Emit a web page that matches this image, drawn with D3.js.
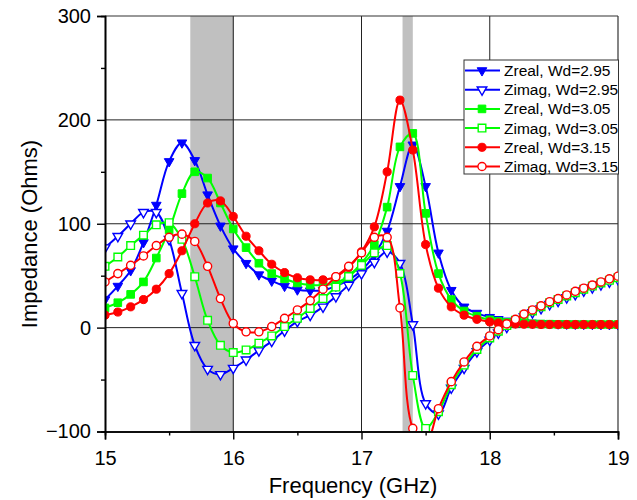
<!DOCTYPE html>
<html><head><meta charset="utf-8">
<script src="https://cdn.jsdelivr.net/npm/d3@7"></script>
<style>body{margin:0;background:#fff}svg{display:block;font-family:"Liberation Sans",Arial,sans-serif}</style>
</head><body><svg id="c" width="637" height="500"></svg>
<script>
const freq = [15.0,15.1,15.2,15.3,15.4,15.5,15.6,15.7,15.8,15.9,16.0,16.1,16.2,16.3,16.4,16.5,16.6,16.7,16.8,16.9,17.0,17.1,17.2,17.3,17.4,17.5,17.6,17.7,17.8,17.9,18.0,
  18.067,18.133,18.2,18.267,18.333,18.4,18.467,18.533,18.6,18.667,18.733,18.8,18.867,18.933,19.0];
const zreal295 = [27,40,55,82,118,160,178,161,128,98,76,62,51,45,40,36.5,35.5,36,40,46,55,70,93,136,176,136,72,36,20,14,10,
  8,6.5,5.5,5,4.5,4.2,4,3.8,3.6,3.5,3.4,3.3,3.2,3.1,3.0];
const zimag295 = [77,88,100,111,111,85,33,-17,-40,-45,-39,-31,-22,-13,-3,6,12,20,30,41,52,63,73,62,3,-73,-83,-58,-39,-23,-12,
  -5,0.5,5.5,10.5,14.5,18.5,22.5,25.5,29,32,35.5,38.5,41.5,44,46.5];
const zreal305 = [19,24,32,44,67,94,129,150,144,120,95,77,62,52,47,43,41,41,43,50,62,80,116,174,187,110,52,27,16,11,7.5,
  6,5,4.5,4,3.7,3.5,3.3,3.2,3.1,3,3,3,3,3,3];
const zimag305 = [59,68,79,89,99,101,85,49,7,-17,-24,-21.5,-15,-8,1,9,18.5,28,39,49,60,72,79,52,-46,-97,-81,-55,-36,-21,-10,
  -3.5,2,7,12,16,20,24,27,30.5,33.5,37,40,43,45.5,48];
const zreal315 = [12,15,20,27,37,52,74,100,120,122,107,88,74,61,53,48,46,46,49,58,73,97,150,219,171,80,38,20,12,8,5.5,
  4.5,4,3.5,3.3,3.2,3,3,3,3,3,3,3,3,3,3];
const zimag315 = [44,52,60,69,79,87,90,83,59,28,4,-4,-4,1,9,17,26,37,49,59,72,87,87,19,-97,-112,-78,-52,-33,-18,-8,
  -2,3.5,8,13,17,21,25,28,31.5,35,38,41,44,47,49.5];
const seriesNames = ["Zreal, Wd=2.95","Zimag, Wd=2.95","Zreal, Wd=3.05","Zimag, Wd=3.05","Zreal, Wd=3.15","Zimag, Wd=3.15"];
const bands = [[15.665,16.005],[17.32,17.40]];
const xTicks = [15,16,17,18,19];
const xMinor = [15.5,16.5,17.5,18.5];
const yTicks = [-100,0,100,200,300];
const yMinor = [-50,50,150,250];
const xGrid = [16,17,18];
const yGrid = [0,100,200];

const svg = d3.select("#c");
const L=105,R=618,T=16,B=431.5;
const x = d3.scaleLinear().domain([15,19]).range([L,R]);
const y = d3.scaleLinear().domain([-100,300]).range([B,T]);

const series = [
  {name:seriesNames[0], vals:zreal295, color:"#0000ff", shape:"tri", filled:true},
  {name:seriesNames[1], vals:zimag295, color:"#0000ff", shape:"tri", filled:false},
  {name:seriesNames[2], vals:zreal305, color:"#00ff00", shape:"sq", filled:true},
  {name:seriesNames[3], vals:zimag305, color:"#00ff00", shape:"sq", filled:false},
  {name:seriesNames[4], vals:zreal315, color:"#ff0000", shape:"circ", filled:true},
  {name:seriesNames[5], vals:zimag315, color:"#ff0000", shape:"circ", filled:false}
];

svg.append("defs").append("clipPath").attr("id","clip")
  .append("rect").attr("x",L).attr("y",T).attr("width",R-L).attr("height",B-T);

// bands
svg.append("g").selectAll("rect").data(bands).join("rect")
  .attr("x",d=>x(d[0])).attr("width",d=>x(d[1])-x(d[0]))
  .attr("y",T).attr("height",B-T).attr("fill","#c0c0c0");

// grid
const g = svg.append("g").attr("stroke","#222").attr("stroke-width",1);
g.selectAll("line.h").data(yGrid).join("line").attr("class","h")
  .attr("x1",L).attr("x2",R).attr("y1",d=>y(d)).attr("y2",d=>y(d));
g.selectAll("line.v").data(xGrid).join("line").attr("class","v")
  .attr("y1",T).attr("y2",B).attr("x1",d=>x(d)).attr("x2",d=>x(d));

// frame top/right
svg.append("line").attr("x1",L).attr("x2",R).attr("y1",T).attr("y2",T).attr("stroke","#333").attr("stroke-width",1.2);
svg.append("line").attr("x1",R).attr("x2",R).attr("y1",T).attr("y2",B).attr("stroke","#333").attr("stroke-width",1.2);

function symPath(shape, filledSize){
  if(shape==="tri") return d3.symbol(d3.symbolTriangle, 40)();
  if(shape==="sq") return d3.symbol(d3.symbolSquare, 58)();
  return d3.symbol(d3.symbolCircle, 52)();
}

const plot = svg.append("g").attr("clip-path","url(#clip)");
const line = d3.line().x((d,i)=>x(freq[i])).y(d=>y(d)).curve(d3.curveCatmullRom.alpha(0.5));
series.forEach(s=>{
  const gs = plot.append("g");
  gs.append("path").attr("d",line(s.vals)).attr("fill","none").attr("stroke",s.color).attr("stroke-width",2);
  gs.selectAll("path.m").data(s.vals).join("path").attr("class","m")
    .attr("d",symPath(s.shape))
    .attr("transform",(d,i)=>`translate(${x(freq[i])},${y(d)})${s.shape==="tri"?" rotate(180)":""}`)
    .attr("fill",s.filled?s.color:"#fff").attr("stroke",s.color).attr("stroke-width",s.filled?1:1.4);
});

// axes
const fontTick = "20px";
const ax = svg.append("g").attr("transform",`translate(0,${B})`)
  .call(d3.axisBottom(x).tickValues(xTicks).tickSize(8).tickPadding(6).tickFormat(d3.format("d")));
const axm = svg.append("g").attr("transform",`translate(0,${B})`)
  .call(d3.axisBottom(x).tickValues(xMinor).tickSize(4).tickFormat(""));
const ay = svg.append("g").attr("transform",`translate(${L},0)`)
  .call(d3.axisLeft(y).tickValues(yTicks).tickSize(8).tickPadding(6).tickFormat(d3.format("d")));
const aym = svg.append("g").attr("transform",`translate(${L},0)`)
  .call(d3.axisLeft(y).tickValues(yMinor).tickSize(4).tickFormat(""));
[ax,axm,ay,aym].forEach(a=>{
  a.select(".domain").attr("stroke","#000").attr("stroke-width",1.6);
  a.selectAll(".tick line").attr("stroke","#000").attr("stroke-width",1.4);
  a.selectAll("text").attr("font-size",fontTick).attr("font-family","Liberation Sans, Arial, sans-serif").attr("fill","#000");
});
ax.selectAll("text").attr("dy","0.95em");

svg.append("text").attr("x",353).attr("y",493).attr("text-anchor","middle")
  .attr("font-size","22px").text("Frequency (GHz)");
svg.append("text").attr("transform","translate(37,234) rotate(-90)").attr("text-anchor","middle")
  .attr("font-size","22px").text("Impedance (Ohms)");

// legend
const lg = svg.append("g");
lg.append("rect").attr("x",464).attr("y",60).attr("width",154.5).attr("height",114)
  .attr("fill","#fff").attr("stroke","#333").attr("stroke-width",1);
series.forEach((s,i)=>{
  const yy = 70.5 + i*19.2;
  lg.append("line").attr("x1",465).attr("x2",500).attr("y1",yy).attr("y2",yy).attr("stroke",s.color).attr("stroke-width",2);
  lg.append("path").attr("d",symPath(s.shape))
    .attr("transform",`translate(482,${yy})${s.shape==="tri"?" rotate(180)":""}`)
    .attr("fill",s.filled?s.color:"#fff").attr("stroke",s.color).attr("stroke-width",s.filled?1:1.4);
  lg.append("text").attr("x",504).attr("y",yy+5.5).attr("font-size","15.5px").text(s.name);
});
</script></body></html>
